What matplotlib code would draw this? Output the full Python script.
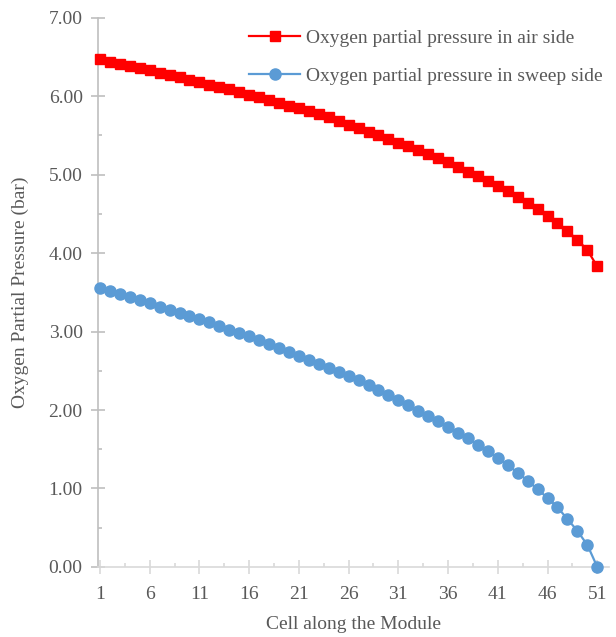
import matplotlib
matplotlib.use("Agg")
import matplotlib.pyplot as plt
import numpy as np

# cell index along the module
cells = np.arange(1, 52)

# oxygen partial pressure, air side (bar)
air_side = [6.47, 6.44, 6.41, 6.39, 6.36, 6.33, 6.30, 6.27, 6.24, 6.21,
            6.18, 6.15, 6.12, 6.09, 6.06, 6.02, 5.99, 5.95, 5.92, 5.88,
            5.85, 5.81, 5.77, 5.73, 5.69, 5.64, 5.59, 5.55, 5.50, 5.46,
            5.41, 5.36, 5.31, 5.26, 5.21, 5.16, 5.10, 5.04, 4.98, 4.92,
            4.86, 4.79, 4.72, 4.64, 4.56, 4.48, 4.38, 4.28, 4.17, 4.04,
            3.83]

# oxygen partial pressure, sweep side (bar)
sweep_side = [3.56, 3.52, 3.48, 3.44, 3.40, 3.36, 3.32, 3.28, 3.24, 3.20,
              3.16, 3.12, 3.07, 3.02, 2.98, 2.94, 2.89, 2.84, 2.79, 2.74,
              2.69, 2.64, 2.59, 2.54, 2.48, 2.43, 2.38, 2.32, 2.26, 2.19,
              2.13, 2.06, 1.99, 1.93, 1.86, 1.79, 1.71, 1.64, 1.56, 1.48,
              1.39, 1.30, 1.20, 1.10, 0.99, 0.88, 0.76, 0.61, 0.46, 0.28,
              0.00]

xtick_labels = [1, 6, 11, 16, 21, 26, 31, 36, 41, 46, 51]

plt.rcParams['font.family'] = ['Liberation Serif', 'DejaVu Serif']
txt_col = '#595959'

fig = plt.figure(figsize=(6.16, 6.37), dpi=100)
ax = fig.add_axes([0.159, 0.110, 0.830, 0.862])

ax.plot(cells, air_side, color='#FF0000', lw=1.6, marker='s', ms=7.8,
        label='Oxygen partial pressure in air side', clip_on=False, zorder=3)
ax.plot(cells, sweep_side, color='#5B9BD5', lw=1.6, marker='o', ms=8,
        label='Oxygen partial pressure in sweep side', clip_on=False, zorder=3)

ax.set_xlim(0.8, 52.2)
ax.set_ylim(0, 7)

ax.set_yticks(np.arange(0, 7.01, 1.0))
ax.set_yticklabels(['%.2f' % v for v in np.arange(0, 7.01, 1.0)])
ax.set_yticks(np.arange(0.5, 7, 1.0), minor=True)
ax.set_xticks(xtick_labels)
ax.set_xticklabels([str(v) for v in xtick_labels])
ax.set_xticks(np.arange(3.5, 51, 5), minor=True)

for s in ['top', 'right']:
    ax.spines[s].set_visible(False)
ax.spines['left'].set_color('#BFBFBF')
ax.spines['bottom'].set_color('#D9D9D9')
ax.spines['left'].set_linewidth(1.2)
ax.spines['bottom'].set_linewidth(1.2)

ax.tick_params(axis='y', which='major', direction='inout', length=10,
               width=1.2, color='#BFBFBF', labelsize=14, labelcolor=txt_col, pad=6)
ax.tick_params(axis='y', which='minor', direction='in', length=3,
               width=1.2, color='#BFBFBF')
ax.tick_params(axis='x', which='major', direction='inout', length=10,
               width=1.2, color='#D9D9D9', labelsize=14, labelcolor=txt_col, pad=9)
ax.tick_params(axis='x', which='minor', direction='in', length=3,
               width=1.2, color='#D9D9D9')

ax.set_xlabel('Cell along the Module', fontsize=14, color=txt_col, labelpad=9)
ax.set_ylabel('Oxygen Partial Pressure (bar)', fontsize=14, color=txt_col, labelpad=14)

leg = ax.legend(loc='upper right', bbox_to_anchor=(1.0, 0.975),
                bbox_transform=fig.transFigure, frameon=False, fontsize=14,
                handlelength=2.6, labelspacing=1.05, handletextpad=0.3,
                borderaxespad=0.3)
for t in leg.get_texts():
    t.set_color(txt_col)

fig.savefig('out.png', dpi=100)
